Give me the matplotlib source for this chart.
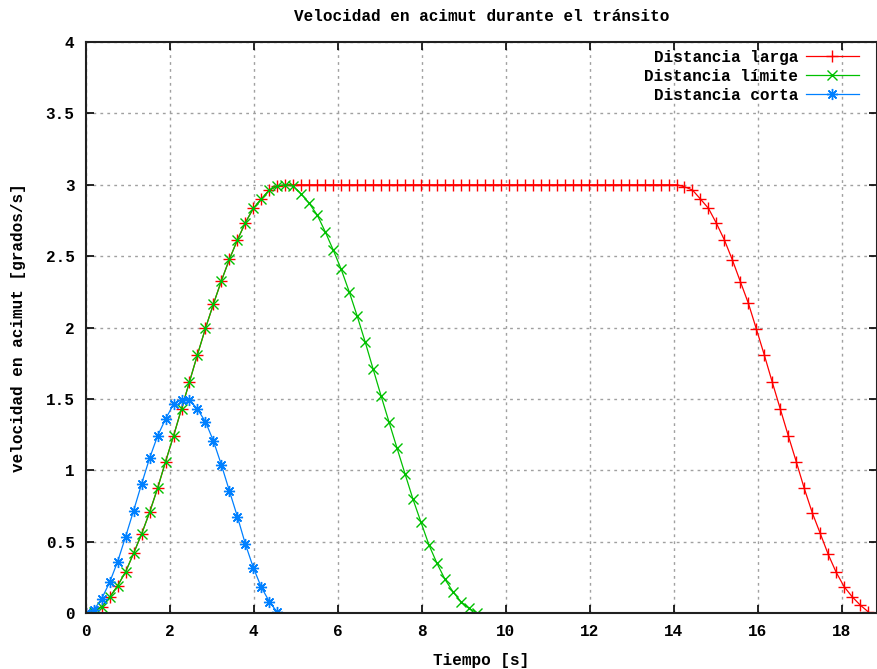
import numpy as np
import matplotlib.pyplot as plt

# sampling step of the simulation [s]
dt = 0.19

# long distance: ramp up, plateau at 3 deg/s, ramp down
larga_subida = [0.0, 0.01, 0.044, 0.11, 0.191, 0.289, 0.418, 0.553, 0.705, 0.873,
                1.06, 1.24, 1.43, 1.62, 1.81, 1.994, 2.165, 2.328, 2.478, 2.613,
                2.734, 2.835, 2.90, 2.963, 2.99]
larga_meseta = [3.0] * 50
larga_bajada = [2.986, 2.963, 2.90, 2.835, 2.73, 2.613, 2.473, 2.321, 2.17, 1.99,
                1.807, 1.616, 1.429, 1.242, 1.06, 0.873, 0.703, 0.558, 0.411, 0.285,
                0.184, 0.114, 0.056, 0.009]
v_larga = larga_subida + larga_meseta + larga_bajada

# limit distance: just reaches 3 deg/s
v_limite = [0.0, 0.01, 0.044, 0.11, 0.191, 0.289, 0.418, 0.553, 0.705, 0.873,
            1.06, 1.24, 1.43, 1.62, 1.81, 1.994, 2.165, 2.328, 2.478, 2.613,
            2.734, 2.835, 2.90, 2.963, 2.99, 3.0, 2.99, 2.935, 2.87, 2.788,
            2.671, 2.543, 2.408, 2.251, 2.081, 1.90, 1.709, 1.52, 1.336, 1.154,
            0.974, 0.796, 0.635, 0.476, 0.348, 0.236, 0.149, 0.079, 0.033, 0.002]

# short distance: peaks at 1.5 deg/s
v_corta = [0.0, 0.02, 0.10, 0.215, 0.36, 0.535, 0.717, 0.904, 1.084, 1.24,
           1.359, 1.462, 1.495, 1.495, 1.427, 1.34, 1.205, 1.037, 0.855, 0.675,
           0.483, 0.317, 0.18, 0.08, 0.005]

t_larga = dt * np.arange(len(v_larga))
t_limite = dt * np.arange(len(v_limite))
t_corta = dt * np.arange(len(v_corta))

font = 'Liberation Mono'
fs = 11.5

fig = plt.figure(figsize=(8.77, 6.69), dpi=100)
ax = fig.add_axes([85.7/877, 1 - 613/669, (877 - 85.7)/877, (613 - 42)/669])

ax.plot(t_larga, v_larga, color='#ff0000', lw=0.9, marker='+', ms=8.5, mew=1.0,
        label='Distancia larga')
ax.plot(t_limite, v_limite, color='#00c000', lw=0.9, marker='x', ms=7, mew=1.0,
        label='Distancia límite')
ax.plot(t_corta, v_corta, color='#0080ff', lw=0.9, marker=(8, 2, 0), ms=8, mew=1.0,
        label='Distancia corta')

ax.set_xlim(0, (877 - 85.7)/42.02)
ax.set_ylim(0, 4)
ax.set_xticks(np.arange(0, 19, 2))
ax.set_yticks(np.arange(0, 4.01, 0.5))
ax.set_yticklabels(['0', '0.5', '1', '1.5', '2', '2.5', '3', '3.5', '4'])

ax.grid(True, color='#a0a0a0', ls=(0, (2, 3)), lw=1.0)
ax.tick_params(direction='in', top=True, right=True, length=6, width=1.2,
               pad=8)
for lab in ax.get_xticklabels() + ax.get_yticklabels():
    lab.set_fontfamily(font)
    lab.set_fontweight('bold')
    lab.set_fontsize(fs)
for s in ax.spines.values():
    s.set_linewidth(1.5)
    s.set_color('#202020')

ax.set_title('Velocidad en acimut durante el tránsito', fontfamily=font,
             fontweight='bold', fontsize=fs, pad=15)
ax.set_xlabel('Tiempo [s]', fontfamily=font, fontweight='bold', fontsize=fs,
              labelpad=10)
ax.set_ylabel('velocidad en acimut [grados/s]', fontfamily=font,
              fontweight='bold', fontsize=fs, labelpad=14)

ax.legend(loc='upper right', markerfirst=False, frameon=False,
          prop={'family': font, 'weight': 'bold', 'size': fs},
          handlelength=3.3, labelspacing=0.25, borderaxespad=0.1,
          handletextpad=0.5, borderpad=0.4, bbox_to_anchor=(0.987, 1.0))

fig.savefig('out.png', dpi=100)
